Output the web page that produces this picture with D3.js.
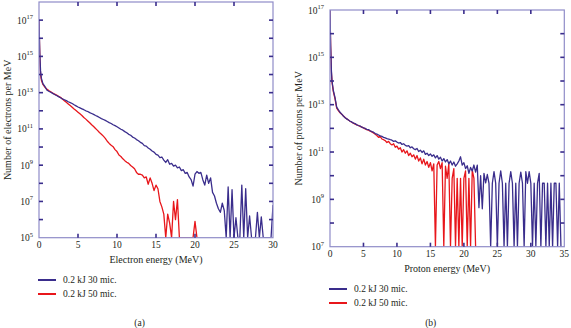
<!DOCTYPE html>
<html>
<head>
<meta charset="utf-8">
<script src="https://cdn.jsdelivr.net/npm/d3@7"></script>
<style>
  body { margin: 0; background: #fff; }
  svg { display: block; font-family: "Liberation Serif", "DejaVu Serif", serif; }
</style>
</head>
<body>
<script>
var width = 571,
    height = 328;

// ---- data: log10(counts per MeV), null = empty bin ----
var headE = [0, 0.1, 0.2, 0.3, 0.5, 0.75];

var elecE = headE.concat(d3.range(1, 30.001, 0.25));
var elec30 = [17, 15.2, 14.2, 13.8, 13.5, 13.35,
  13.15, 13.08, 13.02, 12.96, 12.9, 12.84, 12.78, 12.72, 12.66, 12.61, 12.56, 12.5,
  12.45, 12.4, 12.33, 12.27, 12.21, 12.16, 12.11, 12.06, 12.0, 11.96, 11.9, 11.85,
  11.8, 11.74, 11.69, 11.63, 11.57, 11.52, 11.47, 11.41, 11.35, 11.3, 11.23, 11.18,
  11.12, 11.05, 10.98, 10.93, 10.85, 10.79, 10.7, 10.65, 10.55, 10.5, 10.41, 10.35,
  10.26, 10.2, 10.08, 10.05, 9.95, 9.88, 9.78, 9.72, 9.6, 9.55, 9.42, 9.45,
  9.28, 9.15, 9.3, 9.05, 9.1, 8.95, 9.0, 8.85, 8.9, 8.7, 8.75, 8.55,
  8.6, 8.35, 8.2, 7.85, 8.5, 8.65, 8.55, 8.6, 8.2, 7.9, 8.45, 8.0,
  8.3, 7.5, 7.3, 6.9, 6.6, 6.4, 6.9, 6.5, null, 7.8, null, 7.65,
  null, 6.1, null, null, 7.9, null, 7.7, null, 6.2, null, null, null,
  6.4, null, 6.15, null, null, null, null, null, 6.8];
var elec50 = [17, 15.0, 14.0, 13.7, 13.45, 13.3,
  13.2, 13.12, 13.05, 12.98, 12.92, 12.86, 12.8, 12.74, 12.65, 12.56, 12.47, 12.38,
  12.29, 12.2, 12.1, 12.01, 11.92, 11.83, 11.74, 11.63, 11.54, 11.44, 11.34, 11.23,
  11.13, 11.02, 10.92, 10.8, 10.71, 10.6, 10.48, 10.32, 10.2, 10.1, 10.02, 9.86,
  9.75, 9.56, 9.48, 9.35, 9.25, 9.16, 9.1, 8.98, 8.9, 8.8, 8.6, 8.5,
  8.5, 8.45, 8.3, 8.35, 7.95, 8.3, 8.0, 7.6, 7.9, 7.7, 7.0, 6.7,
  6.3, null, 6.3, 5.8, null, 7.0, 6.0, 7.1, null, null, null, null,
  null, null, null, null, 5.9, null];

var protE = headE.concat(d3.range(1, 34.501, 0.25));
var prot30 = [17, 15.5, 14.5, 14.0, 13.6, 13.3,
  12.9, 12.78, 12.68, 12.6, 12.52, 12.45, 12.4, 12.35, 12.3, 12.27, 12.22, 12.2,
  12.15, 12.12, 12.1, 12.05, 12.02, 12.0, 11.95, 11.95, 11.9, 11.86, 11.84, 11.78,
  11.76, 11.72, 11.68, 11.66, 11.62, 11.6, 11.57, 11.55, 11.52, 11.5, 11.45, 11.47,
  11.42, 11.38, 11.4, 11.32, 11.35, 11.28, 11.25, 11.27, 11.18, 11.22, 11.14, 11.1,
  11.15, 11.02, 11.08, 10.98, 11.05, 10.9, 10.95, 10.85, 10.92, 10.82, 10.88, 10.75,
  10.85, 10.7, 10.78, 10.62, 10.72, 10.58, 10.68, 10.5, 10.62, 10.45, 10.58, 10.4,
  10.5, 10.62, 10.8, 10.45, 10.55, 10.3, 10.42, 10.1, 10.35, 10.2, 10.45, 10.15,
  10.45, 8.65, 10.0, 8.6, 10.1, 9.7, 10.05, 9.68, null, 9.68, 10.17, 9.68,
  null, 9.68, 10.2, 9.68, null, 9.68, null, 9.68, 10.17, 9.68, null, 9.68,
  null, 9.68, 10.15, 9.68, null, 10.17, 9.68, 10.17, 9.68, null, 9.68, null,
  9.68, 10.1, null, 9.68, 9.68, null, 9.68, null, 9.68, null, 9.68, 9.68,
  null, 9.68, null];
var prot50 = [17, 15.4, 14.4, 13.95, 13.55, 13.25,
  12.85, 12.75, 12.66, 12.6, 12.52, 12.46, 12.4, 12.35, 12.3, 12.26, 12.22, 12.18,
  12.15, 12.12, 12.08, 12.05, 12.02, 11.98, 11.95, 11.92, 11.88, 11.85, 11.8, 11.75,
  11.7, 11.62, 11.66, 11.55, 11.52, 11.48, 11.4, 11.45, 11.35, 11.3, 11.35, 11.2,
  11.25, 11.12, 11.18, 11.0, 11.1, 10.95, 11.05, 10.85, 10.95, 10.8, 10.88, 10.7,
  10.85, 10.62, 10.75, 10.5, 10.7, 10.45, 10.6, 10.35, 10.55, 10.2, 10.5, null,
  10.45, 10.6, 10.3, 10.55, null, 10.4, 9.89, 10.5, null, 9.89, 10.3, null,
  9.89, null, 9.89, null, 9.89, 10.2, null, 9.89, null, 10.24, 9.89, null];

var seriesNames = ["0.2 kJ 30 mic.", "0.2 kJ 50 mic."];
var seriesColors = ["#3a2d8c", "#e8161b"];

var panels = [
  { x0: 39, x1: 273, y0: 2, y1: 237.7, xMax: 30, xTicks: [0, 5, 10, 15, 20, 25, 30],
    yExp: [5, 18], yLabel: "Number of electrons per MeV", xLabel: "Electron energy (MeV)",
    energy: elecE, series: [elec30, elec50], tag: "(a)", legendY: 280, labelY: 259 },
  { x0: 330, x1: 564.3, y0: 10, y1: 246.7, xMax: 35, xTicks: [0, 5, 10, 15, 20, 25, 30, 35],
    yExp: [7, 17], yLabel: "Number of protons per MeV", xLabel: "Proton energy (MeV)",
    energy: protE, series: [prot30, prot50], tag: "(b)", legendY: 289, labelY: 268 }
];

var frameColor = "#8f8cc8",
    tickColor = "#3a2d8c",
    textColor = "#231f20";

var svg = d3.select("body").append("svg")
    .attr("width", width)
    .attr("height", height);

panels.forEach(function(p) {
  var x = d3.scaleLinear().domain([0, p.xMax]).range([p.x0, p.x1]);
  var y = d3.scaleLog().domain([Math.pow(10, p.yExp[0]), Math.pow(10, p.yExp[1])])
      .range([p.y1, p.y0]).clamp(true);
  var yMin = Math.pow(10, p.yExp[0]);
  var g = svg.append("g");

  // clip for data
  var clipId = "clip" + p.x0;
  svg.append("clipPath").attr("id", clipId)
    .append("rect").attr("x", p.x0).attr("y", p.y0)
    .attr("width", p.x1 - p.x0).attr("height", p.y1 - p.y0);

  // lines (30 mic drawn on top)
  var line = d3.line()
      .x(function(d) { return x(d[0]); })
      .y(function(d) { return y(d[1] == null ? yMin : Math.pow(10, d[1])); });

  [1, 0].forEach(function(i) {
    var pts = p.series[i].map(function(v, k) { return [p.energy[k], v]; });
    g.append("path")
      .datum(pts)
      .attr("clip-path", "url(#" + clipId + ")")
      .attr("fill", "none")
      .attr("stroke", seriesColors[i])
      .attr("stroke-width", 1.3)
      .attr("stroke-linejoin", "round")
      .attr("d", line);
  });

  // frame
  g.append("rect")
    .attr("x", p.x0).attr("y", p.y0)
    .attr("width", p.x1 - p.x0).attr("height", p.y1 - p.y0)
    .attr("fill", "none").attr("stroke", frameColor).attr("stroke-width", 1.2);

  // ticks (inward, all sides)
  var decades = d3.range(p.yExp[0] + 1, p.yExp[1]);
  decades.forEach(function(e) {
    var yy = y(Math.pow(10, e));
    g.append("line").attr("x1", p.x0).attr("x2", p.x0 + 4).attr("y1", yy).attr("y2", yy)
      .attr("stroke", tickColor).attr("stroke-width", 1.6);
    g.append("line").attr("x1", p.x1 - 4).attr("x2", p.x1).attr("y1", yy).attr("y2", yy)
      .attr("stroke", tickColor).attr("stroke-width", 1.6);
  });
  p.xTicks.slice(1, -1).forEach(function(t) {
    var xx = x(t);
    g.append("line").attr("x1", xx).attr("x2", xx).attr("y1", p.y0).attr("y2", p.y0 + 4)
      .attr("stroke", tickColor).attr("stroke-width", 1.6);
    g.append("line").attr("x1", xx).attr("x2", xx).attr("y1", p.y1 - 4).attr("y2", p.y1)
      .attr("stroke", tickColor).attr("stroke-width", 1.6);
  });

  // y tick labels, odd exponents
  d3.range(p.yExp[0], p.yExp[1] + 1).filter(function(e) { return e % 2 === 1; })
    .forEach(function(e) {
      var t = g.append("text")
        .attr("x", p.x0 - 6).attr("y", y(Math.pow(10, e)) + 3.5)
        .attr("text-anchor", "end")
        .attr("font-size", 9.5).attr("fill", textColor);
      t.append("tspan").text("10");
      t.append("tspan").attr("dy", -4.5).attr("font-size", 6.5).text(e);
    });

  // x tick labels
  p.xTicks.forEach(function(t) {
    g.append("text")
      .attr("x", x(t)).attr("y", p.y1 + 10)
      .attr("text-anchor", "middle")
      .attr("font-size", 9.5).attr("fill", textColor)
      .text(t);
  });

  // axis titles
  g.append("text")
    .attr("x", (p.x0 + p.x1) / 2).attr("y", p.labelY + 3.5)
    .attr("text-anchor", "middle")
    .attr("font-size", 10).attr("fill", textColor)
    .text(p.xLabel);
  g.append("text")
    .attr("transform", "translate(" + (p.x0 - 28) + "," + ((p.y0 + p.y1) / 2) + ") rotate(-90)")
    .attr("text-anchor", "middle")
    .attr("font-size", 10).attr("fill", textColor)
    .text(p.yLabel);

  // legend
  seriesNames.forEach(function(name, i) {
    var ly = p.legendY + i * 14;
    g.append("line")
      .attr("x1", p.x0 - 1).attr("x2", p.x0 + 17).attr("y1", ly).attr("y2", ly)
      .attr("stroke", seriesColors[i]).attr("stroke-width", 2);
    g.append("text")
      .attr("x", p.x0 + 24).attr("y", ly + 3.3)
      .attr("font-size", 9.5).attr("fill", textColor)
      .text(name);
  });

  // panel tag
  g.append("text")
    .attr("x", p.x0 + (p.x1 - p.x0) * 0.43).attr("y", 326)
    .attr("text-anchor", "middle")
    .attr("font-size", 9.5).attr("fill", textColor)
    .text(p.tag);
});
</script>
</body>
</html>
